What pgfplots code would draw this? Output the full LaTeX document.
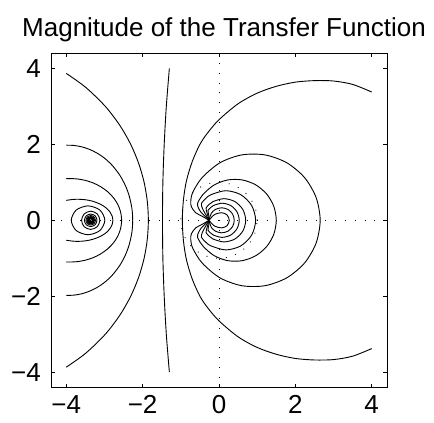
\documentclass[border=0pt]{standalone}
\usepackage{fontspec}
\setmainfont{Liberation Sans}
\usepackage{pgfplots}
\pgfplotsset{compat=1.18}
\begin{document}
\begin{tikzpicture}
\useasboundingbox (0,0) rectangle (434bp,423bp);
\begin{axis}[
 at={(51bp,35.7bp)}, anchor=south west,
 scale only axis, width=336bp, height=334bp,
 xmin=-4.4, xmax=4.4, ymin=-4.4, ymax=4.4,
 xtick={-4,-2,0,2,4}, ytick={-4,-2,0,2,4},
 xticklabels={−4,−2,0,2,4}, yticklabels={−4,−2,0,2,4},
 tick align=inside, major tick length=3.5bp,
 tick style={black, line width=0.6bp},
 axis line style={line width=0.9bp, black},
 ticklabel style={font=\fontsize{26bp}{30bp}\selectfont, inner sep=0pt},
 xticklabel shift=7.7bp, yticklabel shift=10bp,
 title={Magnitude of the Transfer Function},
 title style={font=\fontsize{26bp}{30bp}\selectfont, at={(axis description cs:0.515,1)}, anchor=base, yshift=11.3bp, inner sep=0pt},
 every axis plot/.append style={black, line width=0.9bp},
]
% dotted guides
\addplot[dash pattern=on 0.8bp off 9bp, line width=0.9bp] coordinates {(-4.4,0) (4.4,0)};
\addplot[dash pattern=on 0.8bp off 9bp, line width=0.9bp] coordinates {(0,-4.4) (0,4.4)};
\addplot[smooth, dash pattern=on 0.8bp off 9bp, line width=0.9bp] coordinates {(1,0) (0.966,0.259) (0.866,0.5) (0.707,0.707) (0.5,0.866) (0.259,0.966) (0,1) (-0.259,0.966) (-0.5,0.866) (-0.707,0.707) (-0.866,0.5) (-0.966,0.259) (-1,0) (-0.966,-0.259) (-0.866,-0.5) (-0.707,-0.707) (-0.5,-0.866) (-0.259,-0.966) (0,-1) (0.259,-0.966) (0.5,-0.866) (0.707,-0.707) (0.866,-0.5) (0.966,-0.259) (1,0)};
% left pole rings
\addplot[smooth cycle] coordinates {(-2.99,0) (-3.119,0.269) (-3.43,0.38) (-3.741,0.269) (-3.87,0) (-3.741,-0.269) (-3.43,-0.38) (-3.119,-0.269)};
\addplot[smooth cycle] coordinates {(-3.12,0) (-3.19,0.17) (-3.36,0.24) (-3.53,0.17) (-3.60,0) (-3.53,-0.17) (-3.36,-0.24) (-3.19,-0.17)};
\addplot[smooth cycle] coordinates {(-3.195,0) (-3.243,0.117) (-3.36,0.165) (-3.477,0.117) (-3.525,0) (-3.477,-0.117) (-3.36,-0.165) (-3.243,-0.117)};
\addplot[smooth cycle] coordinates {(-3.235,0) (-3.272,0.088) (-3.36,0.125) (-3.448,0.088) (-3.485,0) (-3.448,-0.088) (-3.36,-0.125) (-3.272,-0.088)};
\addplot[smooth cycle] coordinates {(-3.26,0) (-3.289,0.071) (-3.36,0.1) (-3.431,0.071) (-3.46,0) (-3.431,-0.071) (-3.36,-0.1) (-3.289,-0.071)};
\addplot[smooth cycle] coordinates {(-3.277,0) (-3.301,0.059) (-3.36,0.083) (-3.419,0.059) (-3.443,0) (-3.419,-0.059) (-3.36,-0.083) (-3.301,-0.059)};
\addplot[smooth cycle] coordinates {(-3.29,0) (-3.311,0.049) (-3.36,0.07) (-3.409,0.049) (-3.43,0) (-3.409,-0.049) (-3.36,-0.07) (-3.311,-0.049)};
\addplot[smooth cycle] coordinates {(-3.30,0) (-3.318,0.042) (-3.36,0.06) (-3.402,0.042) (-3.42,0) (-3.402,-0.042) (-3.36,-0.06) (-3.318,-0.042)};
\addplot[smooth cycle] coordinates {(-3.31,0) (-3.325,0.035) (-3.36,0.05) (-3.395,0.035) (-3.41,0) (-3.395,-0.035) (-3.36,-0.05) (-3.325,-0.035)};
\addplot[smooth cycle] coordinates {(-3.32,0) (-3.332,0.028) (-3.36,0.04) (-3.388,0.028) (-3.40,0) (-3.388,-0.028) (-3.36,-0.04) (-3.332,-0.028)};
% left open arcs
\addplot[smooth] coordinates {(-4,0.525) (-3.85,0.547) (-3.7,0.555) (-3.5,0.542) (-3.3,0.50) (-3.1,0.421) (-2.95,0.322) (-2.85,0.212) (-2.80,0.115) (-2.78,0) (-2.80,-0.115) (-2.85,-0.212) (-2.95,-0.322) (-3.1,-0.421) (-3.3,-0.50) (-3.5,-0.542) (-3.7,-0.555) (-3.85,-0.547) (-4,-0.525)};
\addplot[smooth] coordinates {(-4,1.097) (-3.9,1.1) (-3.7,1.088) (-3.5,1.051) (-3.3,0.986) (-3.1,0.886) (-2.9,0.739) (-2.75,0.576) (-2.65,0.416) (-2.58,0.23) (-2.55,0) (-2.58,-0.23) (-2.65,-0.416) (-2.75,-0.576) (-2.9,-0.739) (-3.1,-0.886) (-3.3,-0.986) (-3.5,-1.051) (-3.7,-1.088) (-3.9,-1.1) (-4,-1.097)};
\addplot[smooth] coordinates {(-4,1.979) (-3.8,1.972) (-3.6,1.937) (-3.4,1.872) (-3.2,1.774) (-3.0,1.638) (-2.8,1.451) (-2.6,1.191) (-2.45,0.911) (-2.35,0.635) (-2.28,0.307) (-2.26,0) (-2.28,-0.307) (-2.35,-0.635) (-2.45,-0.911) (-2.6,-1.191) (-2.8,-1.451) (-3.0,-1.638) (-3.2,-1.774) (-3.4,-1.872) (-3.6,-1.937) (-3.8,-1.972) (-4,-1.979)};
\addplot[smooth] coordinates {(-4,3.87) (-3.488,3.5) (-2.976,3.0) (-2.597,2.5) (-2.312,2.0) (-2.104,1.5) (-1.961,1.0) (-1.878,0.5) (-1.85,0) (-1.878,-0.5) (-1.961,-1.0) (-2.104,-1.5) (-2.312,-2.0) (-2.597,-2.5) (-2.976,-3.0) (-3.488,-3.5) (-4,-3.87)};
\addplot[smooth] coordinates {(-1.30,4) (-1.38,3) (-1.435,2) (-1.47,1) (-1.48,0) (-1.47,-1) (-1.435,-2) (-1.38,-3) (-1.30,-4)};
% right big curve
\addplot[smooth] coordinates {(4.0,3.38) (3.5,3.58) (3.0,3.67) (2.5,3.68) (2.0,3.64) (1.5,3.53) (1.0,3.35) (0.5,3.07) (0,2.65) (-0.3,2.3) (-0.5,2.0) (-0.7,1.55) (-0.85,1.05) (-0.93,0.55) (-0.96,0) (-0.93,-0.55) (-0.85,-1.05) (-0.7,-1.55) (-0.5,-2.0) (-0.3,-2.3) (0,-2.65) (0.5,-3.07) (1.0,-3.35) (1.5,-3.53) (2.0,-3.64) (2.5,-3.68) (3.0,-3.67) (3.5,-3.58) (4.0,-3.38)};
% right cluster, curves through the dipole point
\addplot[smooth] coordinates {(-0.26,0) (-0.43,0.10) (-0.61,0.20) (-0.72,0.35) (-0.74,0.5) (-0.686,0.74) (-0.441,1.125) (0.025,1.516) (0.596,1.723) (1.204,1.723) (1.775,1.516) (2.241,1.125) (2.544,0.599) (2.65,0) (2.544,-0.599) (2.241,-1.125) (1.775,-1.516) (1.204,-1.723) (0.596,-1.723) (0.025,-1.516) (-0.441,-1.125) (-0.686,-0.74) (-0.74,-0.5) (-0.72,-0.35) (-0.61,-0.20) (-0.43,-0.10) (-0.26,0)};
\addplot[smooth] coordinates {(-0.26,0) (-0.366,0.106) (-0.47,0.21) (-0.54,0.33) (-0.559,0.456) (-0.407,0.694) (-0.12,0.935) (0.233,1.064) (0.607,1.064) (0.96,0.935) (1.247,0.694) (1.435,0.369) (1.50,0) (1.435,-0.369) (1.247,-0.694) (0.96,-0.935) (0.607,-1.064) (0.233,-1.064) (-0.12,-0.935) (-0.407,-0.694) (-0.559,-0.456) (-0.54,-0.33) (-0.47,-0.21) (-0.366,-0.106) (-0.26,0)};
\addplot[smooth] coordinates {(-0.26,0) (-0.32,0.104) (-0.385,0.217) (-0.44,0.33) (-0.459,0.447) (-0.342,0.58) (-0.21,0.675) (0.18,0.78) (0.57,0.675) (0.855,0.39) (0.96,0) (0.855,-0.39) (0.57,-0.675) (0.18,-0.78) (-0.21,-0.675) (-0.342,-0.58) (-0.459,-0.447) (-0.44,-0.33) (-0.385,-0.217) (-0.32,-0.104) (-0.26,0)};
\addplot[smooth] coordinates {(-0.26,0) (-0.286,0.097) (-0.315,0.2) (-0.337,0.327) (-0.251,0.424) (-0.155,0.494) (0.13,0.57) (0.415,0.494) (0.624,0.285) (0.70,0) (0.624,-0.285) (0.415,-0.494) (0.13,-0.57) (-0.155,-0.494) (-0.251,-0.424) (-0.337,-0.327) (-0.315,-0.2) (-0.286,-0.097) (-0.26,0)};
\addplot[smooth] coordinates {(-0.26,0) (-0.262,0.1) (-0.278,0.18) (-0.289,0.258) (-0.221,0.334) (-0.145,0.39) (0.08,0.45) (0.305,0.39) (0.47,0.225) (0.53,0) (0.47,-0.225) (0.305,-0.39) (0.08,-0.45) (-0.145,-0.39) (-0.221,-0.334) (-0.289,-0.258) (-0.278,-0.18) (-0.262,-0.1) (-0.26,0)};
\addplot[smooth] coordinates {(-0.26,0) (-0.236,0.095) (-0.20,0.189) (-0.095,0.286) (0.07,0.33) (0.235,0.286) (0.356,0.165) (0.40,0) (0.356,-0.165) (0.235,-0.286) (0.07,-0.33) (-0.095,-0.286) (-0.20,-0.189) (-0.236,-0.095) (-0.26,0)};
\addplot[smooth] coordinates {(-0.26,0) (-0.19,0.085) (-0.10,0.16) (0.07,0.2) (0.211,0.141) (0.27,0) (0.211,-0.141) (0.07,-0.2) (-0.10,-0.16) (-0.19,-0.085) (-0.26,0)};
\end{axis}
\end{tikzpicture}
\end{document}
